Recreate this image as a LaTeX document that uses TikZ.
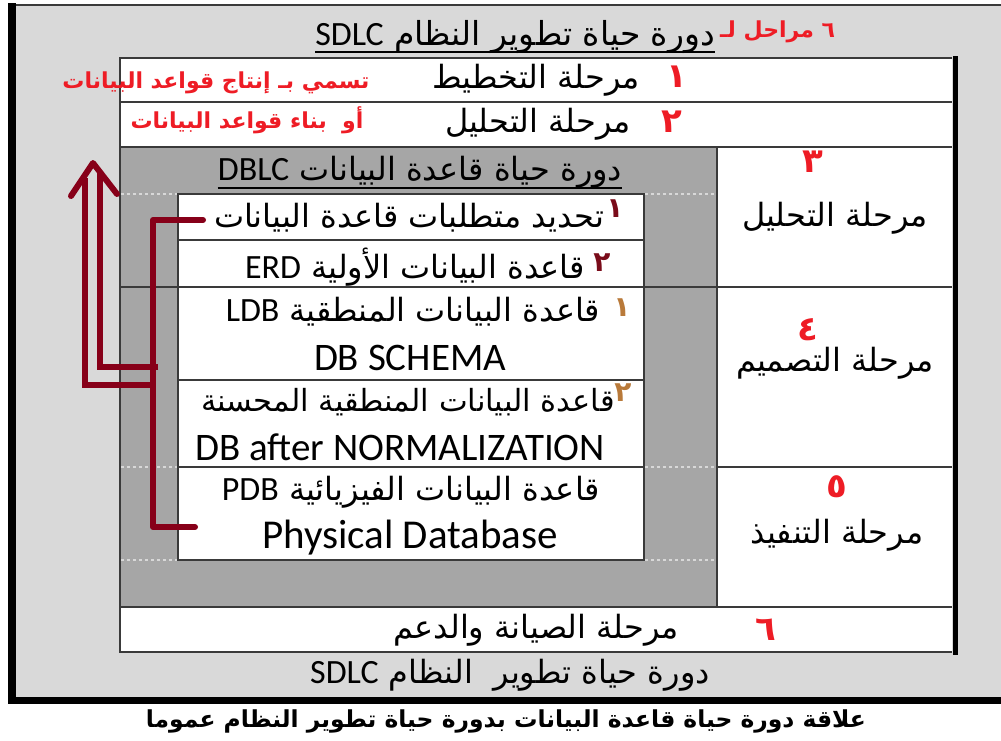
\documentclass[tikz,border=0pt]{standalone}
\usepackage{fontspec}
\setmainfont{Carlito}
\newfontfamily\ar[Script=Arabic]{DejaVu Sans}
\newfontfamily\la{Carlito}
\TeXXeTstate=1

\definecolor{framegray}{HTML}{D9D9D9}
\definecolor{bandgray}{HTML}{A6A6A6}
\definecolor{rulegray}{HTML}{3A3A3A}
\definecolor{linkred}{HTML}{870019}
\definecolor{notered}{HTML}{EE1C25}
\definecolor{stepred}{HTML}{7A0C1A}
\definecolor{stepbrown}{HTML}{B97A3A}
\definecolor{dotgray}{HTML}{D8D8D8}

% Latin run inside right-to-left text
\newcommand\latseg[1]{\beginL{\la\fontsize{34}{36}\selectfont #1}\endL}
% Latin line on its own
\newcommand\latline[2]{{\la\fontsize{#1}{#1}\selectfont #2}}

\tikzset{
  body/.style={font=\ar\fontsize{32}{36}\selectfont, inner sep=0pt},
  note/.style={font=\ar\bfseries\fontsize{22}{26}\selectfont, text=notered, inner sep=0pt},
  phasenum/.style={font=\ar\bfseries\fontsize{34}{36}\selectfont, text=notered, inner sep=0pt},
  stepnum/.style={font=\ar\bfseries\fontsize{28}{30}\selectfont, inner sep=0pt},
  rule/.style={draw=rulegray, line width=1.4pt},
  dotrule/.style={draw=dotgray, line width=1.6pt, dash pattern=on 3pt off 3pt},
  link/.style={draw=linkred, line width=6pt, line cap=round, line join=round},
}

\begin{document}
\begin{tikzpicture}[x=1pt, y=-1pt]
\useasboundingbox (0,0) rectangle (1001,740);
\fill[white] (0,0) rectangle (1001,740);

% outer SDLC frame
\fill[framegray] (12,5) rectangle (1001,700);
\draw[rulegray, line width=1.5pt] (12,5) -- (1001,5);
\draw[black, line width=8pt] (12,3) -- (12,704);
\draw[black, line width=7pt] (8,700) -- (1001,700);

% phase table
\fill[white] (120,58) rectangle (952,652);
\fill[bandgray] (120,147) rectangle (717,607);
\fill[white] (178,194) rectangle (644,560);

\draw[rule] (952,58) -- (120,58) -- (120,652) -- (952,652);
\draw[black, line width=5pt] (955,56) -- (955,654.7);
\draw[rule] (120,102) -- (952,102);
\draw[rule] (120,147) -- (952,147);
\draw[rule] (120,287) -- (952,287);
\draw[rule] (120,607) -- (952,607);
\draw[rule] (717,147) -- (717,607);
\draw[rule] (717,467) -- (952,467);

% DBLC steps box
\draw[rule] (178,194) rectangle (644,560);
\draw[rule] (178,240) -- (644,240);
\draw[rule] (178,380) -- (644,380);
\draw[rule] (178,467) -- (644,467);
\foreach \yy in {194,467,560} {
  \draw[dotrule] (121,\yy) -- (177,\yy);
  \draw[dotrule] (645,\yy) -- (716,\yy);
}

% headings
\node[body, font=\ar\fontsize{33}{36}\selectfont, anchor=base east] (sdlc) at (715,45)
  {\beginR دورة حياة تطوير النظام \latseg{SDLC}\endR};
\draw[black, line width=1.6pt] (sdlc.south west |- 0,52) -- (sdlc.south east |- 0,52);
\node[note, anchor=west] (six) at (720,32)
  {\beginR ٦ مراحل لـ\endR};

% first two phases
\node[body] (plan) at (536,80) {\beginR مرحلة التخطيط\endR};
\node[phasenum] (n1) at (677,77) {١};
\node[body] (anal) at (538,124) {\beginR مرحلة التحليل\endR};
\node[phasenum] (n2) at (672,122) {٢};

\node[note] (alias1) at (216,83) {\beginR تسمي بـ إنتاج قواعد البيانات\endR};
\node[note] (alias2) at (247,120) {\beginR أو\ \ بناء قواعد البيانات\endR};

% DBLC heading
\node[body] (dblc) at (420,172) {\beginR دورة حياة قاعدة البيانات \latseg{DBLC}\endR};
\draw[black, line width=1.6pt] (dblc.south west |- 0,188) -- (dblc.south east |- 0,188);

% DBLC steps
\node[body] (req) at (409,218) {\beginR تحديد متطلبات قاعدة البيانات\endR};
\node[stepnum, text=stepred] (s1) at (615,209) {١};
\node[body] (erd) at (415,267) {\beginR قاعدة البيانات الأولية \latseg{ERD}\endR};
\node[stepnum, text=stepred] (s2) at (602,263) {٢};
\node[body] (ldb) at (413,312) {\beginR قاعدة البيانات المنطقية \latseg{LDB}\endR};
\node[stepnum, text=stepbrown] (d1) at (622,308) {١};
\node[body] (schema) at (410,358) {\latline{39}{DB SCHEMA}};
\node[body, font=\ar\fontsize{30.5}{34}\selectfont] (norm) at (408,402)
  {\beginR قاعدة البيانات المنطقية المحسنة\endR};
\node[stepnum, text=stepbrown] (d2) at (623,393) {٢};
\node[body] (after) at (400,447) {\latline{39}{DB after NORMALIZATION}};
\node[body] (pdb) at (411,492) {\beginR قاعدة البيانات الفيزيائية \latseg{PDB}\endR};
\node[body] (phys) at (410,538) {\latline{41}{Physical Database}};

% phases beside the DBLC
\node[phasenum] (n3) at (813,162) {٣};
\node[body] (anal2) at (835,218) {\beginR مرحلة التحليل\endR};
\node[phasenum] (n4) at (808,330) {٤};
\node[body] (design) at (835,363) {\beginR مرحلة التصميم\endR};
\node[phasenum] (n5) at (837,487) {٥};
\node[body] (impl) at (837,535) {\beginR مرحلة التنفيذ\endR};

% last phase
\node[body] (maint) at (536,630) {\beginR مرحلة الصيانة والدعم\endR};
\node[phasenum] (n6) at (766,630) {٦};

\node[body] (sdlc2) at (510,675) {\beginR دورة حياة تطوير\ \ النظام \latseg{SDLC}\endR};

% caption
\node[font=\ar\bfseries\fontsize{23.4}{26}\selectfont, inner sep=0pt] (cap) at (506,721)
  {\beginR علاقة دورة حياة قاعدة البيانات بدورة حياة تطوير النظام عموما\endR};

% bracket over the DBLC steps and the double arrow up to the first phases
\coordinate (reqEnd) at (203,220);
\coordinate (spineTop) at (153,220);
\coordinate (spineBot) at (153,527);
\coordinate (pdbEnd) at (195,527);
\draw[link] (reqEnd) -- (spineTop) -- (spineBot) -- (pdbEnd);

\coordinate (outerFoot) at (153,385);
\coordinate (outerCorner) at (85,385);
\coordinate (outerTop) at (85,178);
\coordinate (innerFoot) at (158,367);
\coordinate (innerCorner) at (100,367);
\coordinate (innerTop) at (100,172);
\coordinate (tipL) at (71,196);
\coordinate (tip) at (93,163);
\coordinate (tipR) at (117,194);
\draw[link, line cap=butt, line join=miter] (outerFoot) -- (outerCorner) -- (outerTop);
\draw[link, line cap=butt, line join=miter] (innerFoot) -- (innerCorner) -- (innerTop);
\draw[link] (tipL) -- (tip) -- (tipR);
\end{tikzpicture}
\end{document}
